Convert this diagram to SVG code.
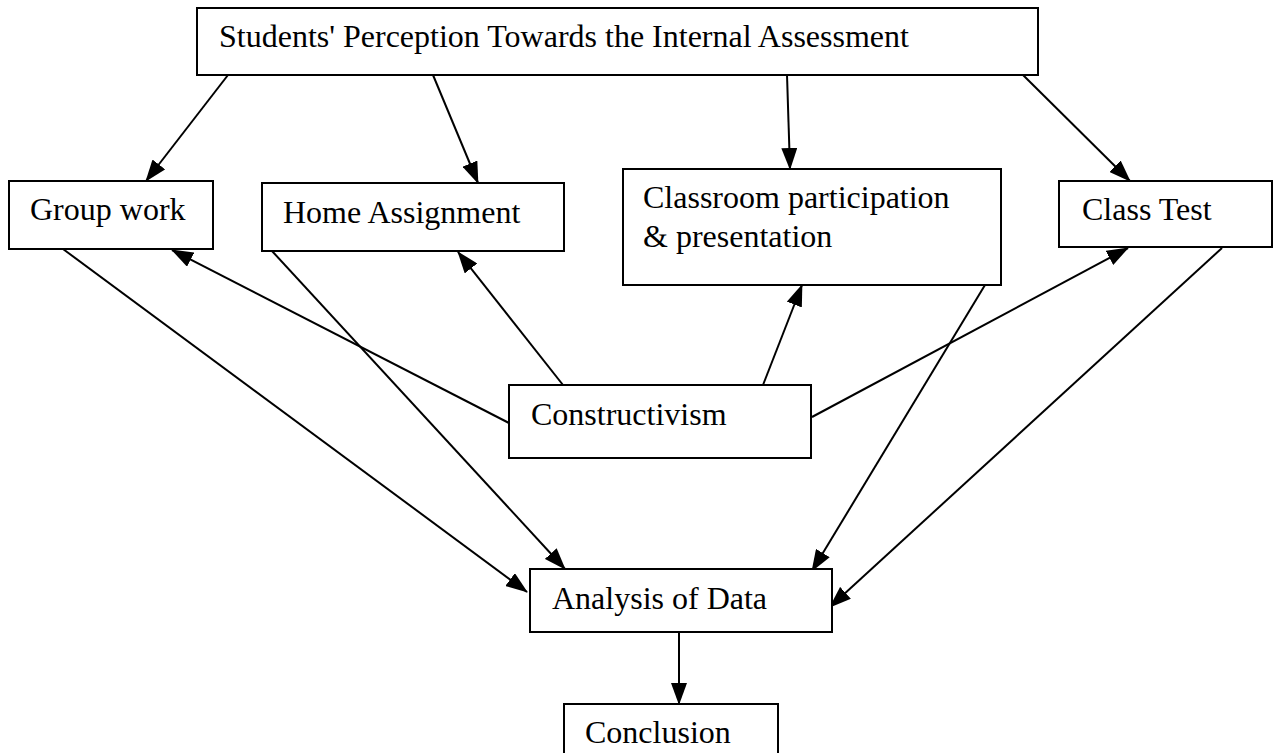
<svg xmlns="http://www.w3.org/2000/svg" width="1277" height="753" viewBox="0 0 1277 753">
<style>
.box{fill:#fff;stroke:#000;stroke-width:2}
.t{font-family:"Liberation Serif","Times New Roman",serif;font-size:32px;fill:#000}
.c line{stroke:#000;stroke-width:2;marker-end:url(#ah)}
</style>
<defs>
<marker id="ah" markerUnits="userSpaceOnUse" markerWidth="22" markerHeight="16" viewBox="0 0 22 16" refX="21" refY="8" orient="auto">
<path d="M0,0 L22,8 L0,16 Z" fill="#000"/>
</marker>
</defs>
<rect width="1277" height="753" fill="#fff"/>
<g class="c" id="connectors">
<line x1="228" y1="75" x2="146" y2="181"/>
<line x1="433" y1="75" x2="478" y2="183"/>
<line x1="787" y1="75" x2="790" y2="169"/>
<line x1="1023" y1="75" x2="1130" y2="181"/>
<line x1="509" y1="423" x2="172" y2="250"/>
<line x1="563" y1="385" x2="458" y2="252"/>
<line x1="763" y1="385" x2="802" y2="285"/>
<line x1="812" y1="417" x2="1128" y2="248"/>
<line x1="63" y1="249" x2="527" y2="592"/>
<line x1="272" y1="251" x2="565" y2="569"/>
<line x1="985" y1="285" x2="812" y2="571"/>
<line x1="1222" y1="248" x2="830" y2="607"/>
<line x1="679" y1="632" x2="679" y2="704"/>
</g>
<g id="top"><rect class="box" x="197" y="8" width="841" height="67"/><text class="t" x="219" y="47">Students' Perception Towards the Internal Assessment</text></g>
<g id="group"><rect class="box" x="9" y="181" width="204" height="68"/><text class="t" x="30" y="220">Group work</text></g>
<g id="home"><rect class="box" x="262" y="183" width="302" height="68"/><text class="t" x="283" y="223">Home Assignment</text></g>
<g id="classroom"><rect class="box" x="623" y="169" width="378" height="116"/><text class="t" x="643" y="208">Classroom participation</text><text class="t" x="643" y="247">&amp; presentation</text></g>
<g id="classtest"><rect class="box" x="1059" y="181" width="213" height="66"/><text class="t" x="1082" y="220">Class Test</text></g>
<g id="constructivism"><rect class="box" x="509" y="385" width="302" height="73"/><text class="t" x="531" y="425">Constructivism</text></g>
<g id="analysis"><rect class="box" x="530" y="569" width="302" height="63"/><text class="t" x="552" y="609">Analysis of Data</text></g>
<g id="conclusion"><rect class="box" x="564" y="704" width="214" height="60"/><text class="t" x="585" y="743">Conclusion</text></g>
</svg>
